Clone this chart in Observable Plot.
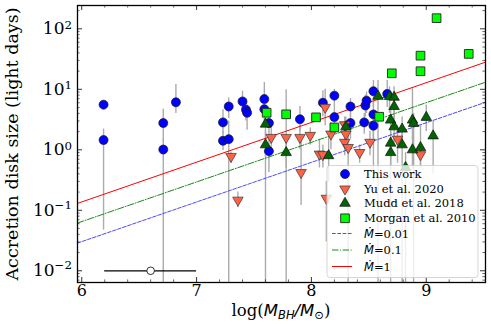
<!DOCTYPE html>
<html><head><meta charset="utf-8">
<script src="https://cdn.jsdelivr.net/npm/d3@7"></script>
<script src="https://cdn.jsdelivr.net/npm/@observablehq/plot@0.6"></script>
<style>body{margin:0;background:#fff} svg{display:block}</style>
</head><body><div id="chart"></div>
<script>
// ---- data ----
const thisX  = [6.19,6.19,6.71,6.71,6.82,7.23,7.23,7.28,7.28,7.40,7.43,7.44,7.59,7.59,7.63,7.63,7.90,8.10,8.20,8.20,8.34,8.34,8.46,8.47,8.48,8.54,8.54,8.54,8.66];
const thisY  = [5.57,1.45,2.77,1.01,6.1,2.84,1.41,5.2,1.5,6.3,4.6,4.1,6.9,4.7,2.77,0.95,3.2,6.0,7.85,3.47,5.2,2.77,2.84,5.4,6.5,9.3,3.85,2.5,8.4];
const thisLo = [5.57,0.047,1.4,0.001,4.0,1.8,0.97,3.3,0.001,4.5,3.0,2.1,4.5,3.0,1.5,0.42,2.0,3.5,5,2,3.5,1.5,1.8,3.5,4,5,1.5,0.3,5];
const thisHi = [5.57,2.2,4.7,1.5,12,4.6,2.0,7.2,3.0,9.3,6.0,5.5,13,6.5,4,1.5,5.2,9.5,10,5,7,4,4,8,9,14,6,4,14];

const yuX  = [7.30,7.36,7.65,7.78,7.90,7.99,7.91,8.07,8.10,8.12,8.13,8.17,8.29,8.29,8.30,8.32,8.42,8.51,8.75,8.95];
const yuY  = [0.776,0.147,1.6,1.6,1.6,1.73,0.42,0.85,0.83,5.03,0.158,1.82,2.6,1.33,1.82,1.09,0.9,1.33,1.5,0.83];
const yuLo = [0.6,0.11,0.9,0.001,1.0,1.2,0.12,0.5,0.5,2.5,0.03,1.0,1.5,0.8,1.0,0.001,0.6,0.8,0.6,0.5];
const yuHi = [0.9,0.2,2.5,9.8,2.5,2.3,1.4,1.5,1.2,10,0.3,2.8,3.5,2,2.5,1.8,1.2,2,2.5,1.2];

const muddX  = [7.60,7.60,7.78,8.15,8.30,8.58,8.68,8.72,8.72,8.69,8.72,8.79,8.69,8.69,8.79,8.88,8.89,8.88,8.95,9.00,9.06,8.82];
const muddY  = [2.66,1.21,0.9,0.8,2.4,7.66,7.6,7.4,5.2,3.1,2.4,2.2,1.29,0.9,1.21,3.1,2.73,1.0,1.09,3.44,1.7,0.51];
const muddLo = [1.2,0.001,0.5,0.3,1.5,0.001,4,4,3,0.001,1.3,1.2,0.7,0.5,0.001,1.5,0.001,0.5,0.5,2,0.4,0.001];
const muddHi = [4,2,1.4,1.6,3.5,14,11,11,8,5,4,3.5,2,1.3,2,10.7,4,1.6,2.5,5.5,3,0.9];

const morganX = [7.61,7.78,8.04,8.20,8.59,8.70,8.95,8.95,9.09,9.37];
const morganY = [4.1,3.86,3.44,2.34,3.52,18.4,36,19.9,150,38.5];

// model lines (end points)
const lineX   = [5.963, 9.516];
const mdot1   = [0.130, 28.1];
const mdot01  = [0.0615, 13.1];
const mdot001 = [0.0287, 6.1];

// typical error bar sample
const sampleX = [6.6], sampleY = [0.01], sampleXLo = [6.2], sampleXHi = [7.0];

// axes
const xMajor = [6,7,8,9];
const xTickLabels = ["6","7","8","9"];
const xMinor = [5.2,5.4,5.6,5.8,6.2,6.4,6.6,6.8,7.2,7.4,7.6,7.8,8.2,8.4,8.6,8.8,9.2,9.4].filter(v=>v>5.963);
const yMajor = [0.01,0.1,1,10,100];
const yTickExp = ["−2","−1","0","1","2"];
const yMinor = [0.001,0.01,0.1,1,10,100].flatMap(d=>[2,3,4,5,6,7,8,9].map(k=>k*d)).filter(v=>v>0.0064&&v<243);

const legendLabels = ["This work","Yu et al. 2020","Mudd et al. 2018","Morgan et al. 2010"];
const lineLabels = ["=0.01","=0.1","=1"];

// ---- tables ----
const rows = (xs, ys, lo, hi) => xs.map((x,i)=>({x, y: ys[i], lo: lo ? lo[i] : ys[i], hi: hi ? hi[i] : ys[i]}));
const thisWork = rows(thisX, thisY, thisLo, thisHi);
const yu = rows(yuX, yuY, yuLo, yuHi);
const mudd = rows(muddX, muddY, muddLo, muddHi);
const morgan = rows(morganX, morganY);
const errRows = [...thisWork, ...yu, ...mudd];
const lineRows = arr => lineX.map((x,i)=>({x, y: arr[i]}));
const sample = sampleX.map((x,i)=>({x, y: sampleY[i], x1: sampleXLo[i], x2: sampleXHi[i]}));

const W=491, H=327, mL=77, mR=6, mT=5, mB=45;
const iW = W-mL-mR, iH = H-mT-mB;
const majL = 5, minL = 2.6;
const blueLine = "#4a4aff", greenLine = "#1a8a1a";

const chart = Plot.plot({
  width: W, height: H, marginLeft: mL, marginRight: mR, marginTop: mT, marginBottom: mB,
  style: {fontFamily: "DejaVu Serif", background: "white"},
  x: {domain: [5.963, 9.516], axis: null},
  y: {type: "log", domain: [0.0064, 243], axis: null},
  marks: [
    Plot.ruleX(errRows, {x:"x", y1:"lo", y2:"hi", stroke:"#ababab", strokeWidth:1.4, clip:true}),
    Plot.line(lineRows(mdot001), {x:"x", y:"y", stroke:blueLine, strokeWidth:1, strokeDasharray:"3.7,1.6"}),
    Plot.line(lineRows(mdot01), {x:"x", y:"y", stroke:greenLine, strokeWidth:1, strokeDasharray:"6.4,1.6,1,1.6"}),
    Plot.line(lineRows(mdot1), {x:"x", y:"y", stroke:"#ff0000", strokeWidth:1}),
    Plot.ruleY(sample, {y:"y", x1:"x1", x2:"x2", stroke:"black", strokeWidth:1.3}),
    Plot.dot(sample, {x:"x", y:"y", r:3.8, fill:"white", stroke:"black", strokeWidth:0.8}),
    Plot.dot(thisWork, {x:"x", y:"y", r:4.5, fill:"#0000ff", stroke:"#1a1a1a", strokeWidth:0.7}),
    Plot.dot(yu, {x:"x", y:"y", symbol:"triangle", rotate:180, r:3.9, fill:"#ff6347", stroke:"#333", strokeWidth:0.7}),
    Plot.dot(mudd, {x:"x", y:"y", symbol:"triangle", r:3.9, fill:"#006400", stroke:"#111", strokeWidth:0.7}),
    Plot.dot(morgan, {x:"x", y:"y", symbol:"square", r:4.9, fill:"#00ff00", stroke:"#222", strokeWidth:0.9}),
    // inward ticks
    Plot.ruleX(xMajor, {x:d=>d, insetTop: iH-majL, stroke:"black", strokeWidth:0.8}),
    Plot.ruleX(xMajor, {x:d=>d, insetBottom: iH-majL, stroke:"black", strokeWidth:0.8}),
    Plot.ruleX(xMinor, {x:d=>d, insetTop: iH-minL, stroke:"black", strokeWidth:0.6}),
    Plot.ruleX(xMinor, {x:d=>d, insetBottom: iH-minL, stroke:"black", strokeWidth:0.6}),
    Plot.ruleY(yMajor, {y:d=>d, insetRight: iW-majL, stroke:"black", strokeWidth:0.8}),
    Plot.ruleY(yMajor, {y:d=>d, insetLeft: iW-majL, stroke:"black", strokeWidth:0.8}),
    Plot.ruleY(yMinor, {y:d=>d, insetRight: iW-minL, stroke:"black", strokeWidth:0.6}),
    Plot.ruleY(yMinor, {y:d=>d, insetLeft: iW-minL, stroke:"black", strokeWidth:0.6}),
    Plot.text(xMajor, {x:d=>d, frameAnchor:"bottom", dy:2, lineAnchor:"top", text:(d,i)=>xTickLabels[i], fontSize:16, fill:"black"}),
    Plot.frame({stroke:"black", strokeWidth:1.3})
  ]
});
document.getElementById("chart").appendChild(chart);

const svg = d3.select(chart);
const ys = chart.scale("y");

// y tick labels with superscripts
yMajor.forEach((v,i)=>{
  const t = svg.append("text").attr("x", 72).attr("y", ys.apply(v) + 6)
    .attr("text-anchor","end").attr("font-family","DejaVu Serif").attr("font-size",17).attr("fill","black");
  t.append("tspan").text("10");
  t.append("tspan").attr("font-size",11.8).attr("dy", yTickExp[i].startsWith("−") ? -7 : -5.5).text(yTickExp[i]);
});

// axis titles
svg.append("text").attr("transform","translate(18,144) rotate(-90)").attr("text-anchor","middle")
  .attr("font-family","DejaVu Serif").attr("font-size",17.5).attr("fill","black")
  .text("Accretion disk size (light days)");
const xt = svg.append("text").attr("x",281).attr("y",316).attr("text-anchor","middle")
  .attr("font-family","DejaVu Serif").attr("font-size",16.5).attr("fill","black");
xt.append("tspan").text("log(");
xt.append("tspan").attr("font-family","DejaVu Sans").attr("font-style","italic").text("M");
xt.append("tspan").attr("font-family","DejaVu Sans").attr("font-style","italic").attr("font-size",11.5).attr("dy",3).text("BH");
xt.append("tspan").attr("font-family","DejaVu Sans").attr("font-style","italic").attr("dy",-3).text("/M");
xt.append("tspan").attr("font-family","DejaVu Sans").attr("font-size",11.5).attr("dy",3).text("⊙");
xt.append("tspan").attr("dy",-3).text(")");

// legend
const lg = svg.append("g").attr("text-anchor","start");
lg.append("rect").attr("x",327).attr("y",165.5).attr("width",151).attr("height",112).attr("rx",3)
  .attr("fill","white").attr("fill-opacity",0.8).attr("stroke","#cccccc").attr("stroke-width",0.8);
const mx = 345, tx = 364;
const rowY = [174, 189, 203.3, 218.3, 233.5, 250, 266.5];
const sym = (type, r) => d3.symbol(type, Math.PI*r*r)();
lg.append("circle").attr("cx",mx).attr("cy",rowY[0]).attr("r",4.5).attr("fill","#0000ff").attr("stroke","#1a1a1a").attr("stroke-width",0.7);
lg.append("path").attr("d",sym(d3.symbolTriangle,3.9)).attr("transform",`translate(${mx},${rowY[1]}) rotate(180)`).attr("fill","#ff6347").attr("stroke","#333").attr("stroke-width",0.7);
lg.append("path").attr("d",sym(d3.symbolTriangle,3.9)).attr("transform",`translate(${mx},${rowY[2]})`).attr("fill","#006400").attr("stroke","#111").attr("stroke-width",0.7);
lg.append("path").attr("d",sym(d3.symbolSquare,4.9)).attr("transform",`translate(${mx},${rowY[3]})`).attr("fill","#00ff00").attr("stroke","#222").attr("stroke-width",0.9);
legendLabels.forEach((s,i)=>{
  lg.append("text").attr("x",tx).attr("y",rowY[i]+4).attr("text-anchor","start").attr("font-family","DejaVu Serif").attr("font-size",11.5).attr("fill","black").text(s);
});
const lineStyles = [[blueLine,"3.7,1.6"],[greenLine,"6.4,1.6,1,1.6"],["#ff0000",null]];
lineLabels.forEach((s,i)=>{
  const y = rowY[4+i];
  const l = lg.append("line").attr("x1",332).attr("x2",352).attr("y1",y).attr("y2",y).attr("stroke",lineStyles[i][0]).attr("stroke-width",1);
  if (lineStyles[i][1]) l.attr("stroke-dasharray",lineStyles[i][1]);
  const t = lg.append("text").attr("x",tx).attr("y",y+4).attr("text-anchor","start").attr("font-family","DejaVu Serif").attr("font-size",11.5).attr("fill","black");
  t.append("tspan").attr("font-family","DejaVu Sans").attr("font-style","italic").text("Ṁ");
  t.append("tspan").text(s);
});
</script>
</body></html>
